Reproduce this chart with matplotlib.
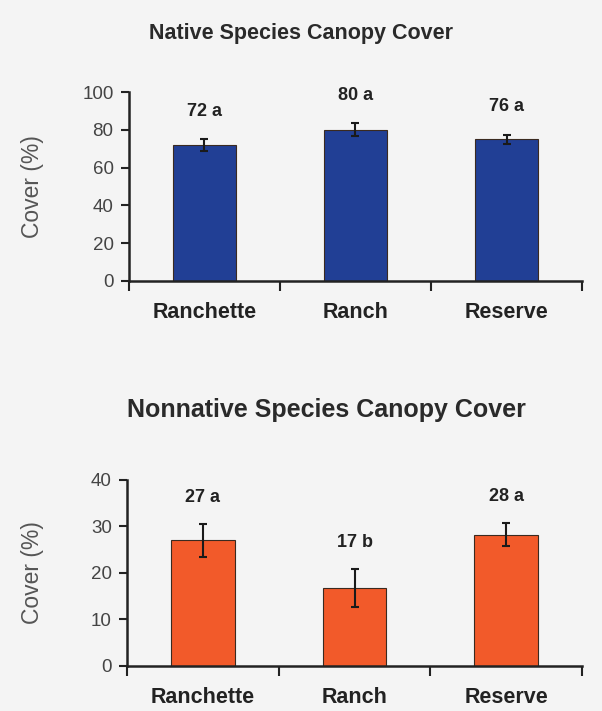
import matplotlib
matplotlib.use("Agg")
import matplotlib.pyplot as plt
import numpy as np

plt.rcParams['font.family'] = ['Liberation Sans', 'DejaVu Sans']

# Данные
sites = ["Ranchette", "Ranch", "Reserve"]

native_cover = [72, 80, 75]
native_err = [3, 3.5, 2.5]
native_labels = ["72 a", "80 a", "76 a"]

nonnative_cover = [27, 16.7, 28.2]
nonnative_err = [3.5, 4.1, 2.5]
nonnative_labels = ["27 a", "17 b", "28 a"]

bg = '#f4f4f4'
fig = plt.figure(figsize=(6.02, 7.11), dpi=100, facecolor=bg)


def panel(rect, vals, errs, labels, color, ymax, step, title, title_xy, title_size, label_off):
    ax = fig.add_axes(rect, facecolor=bg)
    x = np.arange(len(sites))
    ax.bar(x, vals, width=0.42, color=color, edgecolor='#3a2a20', linewidth=0.8, zorder=2)
    ax.errorbar(x, vals, yerr=errs, fmt='none', ecolor='#1a1a1a', elinewidth=1.5,
                capsize=3, capthick=1.5, zorder=3)
    # подписи над столбцами
    for xi, v, e, lab in zip(x, vals, errs, labels):
        ax.annotate(lab, (xi, v + e), xytext=(0, label_off), textcoords='offset points',
                    ha='center', va='center', fontsize=13, fontweight='bold', color='#222222')
    ax.set_xlim(-0.5, 2.5)
    ax.set_ylim(0, ymax)
    ax.set_yticks(np.arange(0, ymax + 1, step))
    ax.set_xticks([-0.5, 0.5, 1.5, 2.5])
    ax.set_xticklabels([])
    ax.set_xticks(x, minor=True)
    ax.set_xticklabels(sites, minor=True, fontsize=15.5, fontweight='bold', color='#222222')
    ax.tick_params(axis='x', which='major', direction='out', length=7, width=1.5, color='#222222')
    ax.tick_params(axis='x', which='minor', length=0, pad=15)
    ax.tick_params(axis='y', direction='out', length=6, width=1.5, color='#222222',
                   labelsize=13.5, labelcolor='#444444', pad=5)
    for s in ['top', 'right']:
        ax.spines[s].set_visible(False)
    for s in ['left', 'bottom']:
        ax.spines[s].set_linewidth(1.8)
        ax.spines[s].set_color('#222222')
    ax.set_ylabel("Cover (%)", fontsize=16.5, color='#555555', va='center')
    ax.yaxis.set_label_coords(32 / 602, rect[1] + rect[3] / 2, transform=fig.transFigure)
    fig.text(title_xy[0], title_xy[1], title, ha='center', va='center', fontsize=title_size,
             fontweight='bold', color='#2a2a2a')
    return ax


panel([0.214, 0.6048, 0.753, 0.2658], native_cover, native_err, native_labels,
      '#213f95', 100, 20, "Native Species Canopy Cover", (301 / 602, 1 - 33 / 711), 15.5, 20)
panel([0.211, 0.0633, 0.756, 0.2616], nonnative_cover, nonnative_err, nonnative_labels,
      '#f25a2a', 40, 10, "Nonnative Species Canopy Cover", (326 / 602, 1 - 410 / 711), 18, 19)

fig.savefig("out.png", dpi=100, facecolor=bg)
